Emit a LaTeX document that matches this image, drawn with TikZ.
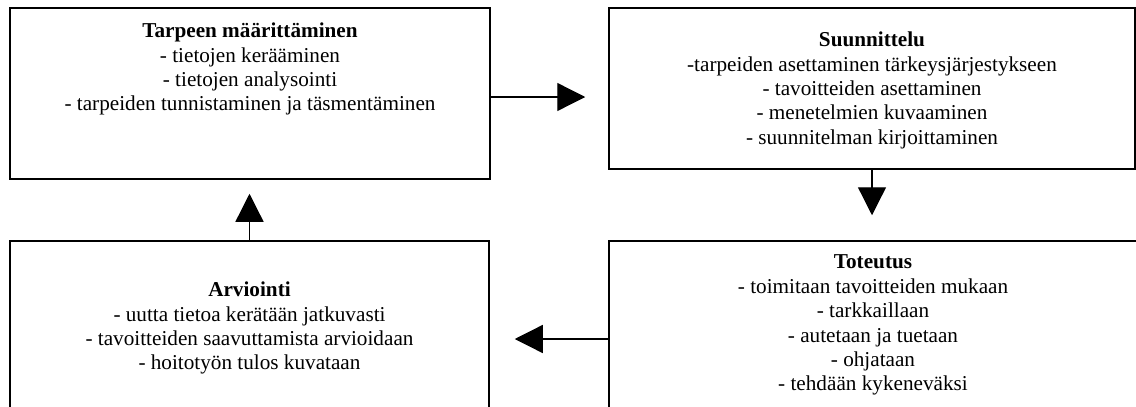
\documentclass[tikz,border=0pt]{standalone}
\usepackage{fontspec}
\setmainfont{Liberation Serif}
\usetikzlibrary{arrows.meta}
\begin{document}
\begin{tikzpicture}[x=1pt,y=-1pt,
  box/.style={draw, line width=1.5pt, inner sep=0pt, fill=none},
  txt/.style={anchor=north, align=center, inner sep=0pt,
    font=\fontsize{21.2}{24.4}\selectfont},
  flow/.style={line width=1.3pt, -{Triangle[length=28pt,width=28pt]}}]
\useasboundingbox (0,0) rectangle (1136,407);
\clip (0,0) rectangle (1136,407);
% the four phases
\node[box, minimum width=480pt, minimum height=171pt] (b1) at (250,93.5) {};
\node[box, minimum width=526pt, minimum height=161pt] (b2) at (872,88.5) {};
\node[box, minimum width=528pt, minimum height=184pt] (b3) at (873,333) {};
\node[box, minimum width=479pt, minimum height=184pt] (b4) at (249.5,333) {};
% phase texts
\node[txt] (t1) at ([yshift=-15.5pt]b1.north)
  {\textbf{Tarpeen määrittäminen}\\- tietojen kerääminen\\- tietojen analysointi\\- tarpeiden tunnistaminen ja täsmentäminen};
\node[txt] (t2) at ([yshift=-24.5pt]b2.north)
  {\textbf{Suunnittelu}\\-tarpeiden asettaminen tärkeysjärjestykseen\\- tavoitteiden asettaminen\\- menetelmien kuvaaminen\\- suunnitelman kirjoittaminen};
\node[txt] (t3) at ([yshift=-14.5pt]b3.north)
  {\textbf{Toteutus}\\- toimitaan tavoitteiden mukaan\\- tarkkaillaan\\- autetaan ja tuetaan\\- ohjataan\\- tehdään kykeneväksi};
\node[txt] (t4) at ([yshift=-41.5pt]b4.north)
  {\textbf{Arviointi}\\- uutta tietoa kerätään jatkuvasti\\- tavoitteiden saavuttamista arvioidaan\\- hoitotyön tulos kuvataan};
% cycle arrows
\draw[flow, shorten >=23pt] ([yshift=-3.5pt]b1.east) -- ([yshift=-3.5pt]b1.east -| b2.west);
\draw[flow, shorten >=25pt] (b2.south) -- (b2.south |- b3.north);
\draw[flow, shorten >=25pt] (b3.west |- 0,339) -- (b4.east |- 0,339);
\draw[flow, shorten >=14pt] (b4.north) -- (b4.north |- b1.south);
\end{tikzpicture}
\end{document}
